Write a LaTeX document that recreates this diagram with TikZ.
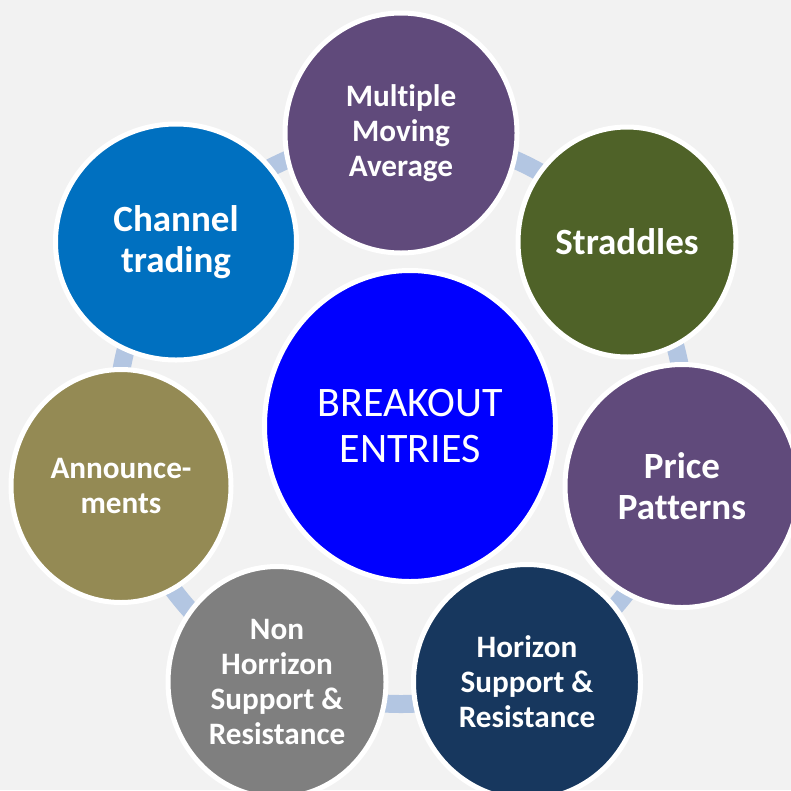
\documentclass[tikz,border=0pt]{standalone}
\usepackage{fontspec}
\setmainfont{Carlito}[Ligatures=NoCommon]
\usetikzlibrary{shapes.geometric}
\definecolor{bg}{HTML}{F2F2F2}
\definecolor{ringc}{HTML}{B3C6E2}
\definecolor{purp}{HTML}{604A7B}
\definecolor{olive}{HTML}{4F6228}
\definecolor{navy}{HTML}{17375E}
\definecolor{grayc}{HTML}{7F7F7F}
\definecolor{khaki}{HTML}{948A54}
\definecolor{chan}{HTML}{0070C0}
\definecolor{core}{HTML}{0000FF}
\tikzset{
  bubble/.style 2 args={ellipse, draw=white, line width=5pt, minimum width=#1pt,
    minimum height=#2pt, inner sep=0pt,
    text=white, align=center, font=\fontsize{31.2}{35}\selectfont\bfseries},
  bigtxt/.style={font=\fontsize{37}{41}\selectfont\bfseries},
  hubnode/.style={ellipse, draw=white, line width=5pt, fill=core, minimum width=291pt,
    minimum height=311pt, inner sep=0pt, text=white, align=center,
    font=\fontsize{42}{46}\selectfont},
  ringline/.style={draw=ringc, line width=18pt}
}
\begin{document}
\begin{tikzpicture}[x=1pt,y=-1pt]
\useasboundingbox[fill=bg] (0,0) rectangle (791,790);
\coordinate (hub) at (401,420);
\draw[ringline] (hub) circle[radius=284pt];
\node[bubble={232}{240}, fill=purp] (mma) at (401,133) {Multiple\\Moving\\Average};
\node[bubble={218}{230}, bigtxt, fill=olive] (str) at (627,242) {Straddles};
\node[bubble={234}{243}, bigtxt, fill=purp] (pp) at (682,486) {Price\\Patterns};
\node[bubble={227}{235}, fill=navy] (hor) at (527,682) {Horizon\\Support \&\\Resistance};
\node[bubble={218}{231}, fill=grayc] (non) at (277,682) {Non\\Horrizon\\Support \&\\Resistance};
\node[bubble={220}{233}, fill=khaki] (ann) at (121,486) {Announce-\\ments};
\node[bubble={241}{236}, bigtxt, fill=chan] (ch) at (176,242) {Channel\\trading};
\node[hubnode] (center) at (410,426) {BREAKOUT\\ENTRIES};
\end{tikzpicture}
\end{document}
